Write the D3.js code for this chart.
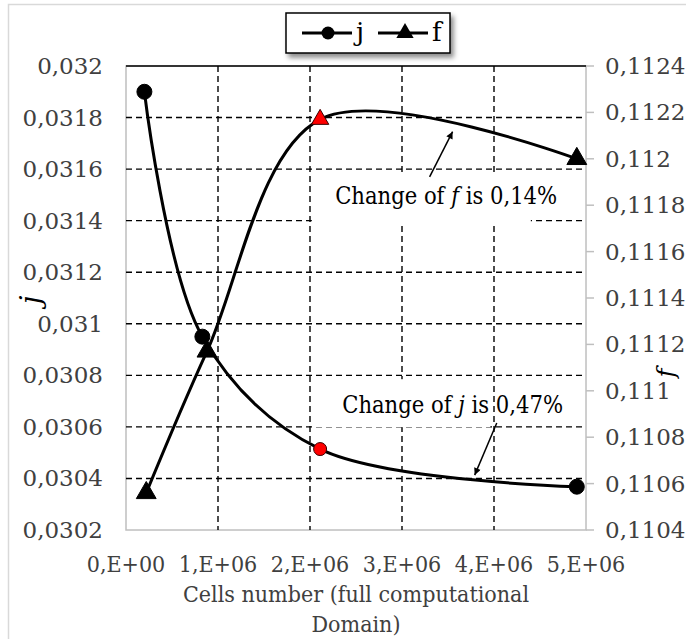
<!DOCTYPE html>
<html><head><meta charset="utf-8">
<script src="https://cdn.jsdelivr.net/npm/d3@7"></script>
<style>
html,body{margin:0;padding:0;background:#fff;}
svg{display:block;}
</style></head>
<body><svg id="c" width="686" height="639"></svg>
<script>
// ---- data ----
const seriesNames = ["j", "f"];
const jCells = [0.20e6, 0.83e6, 2.11e6, 4.90e6];
const jValues = [0.03190, 0.03095, 0.030514, 0.030368];
const fCells = [0.22e6, 0.88e6, 2.11e6, 4.90e6];
const fValues = [0.11056, 0.11117, 0.11217, 0.11200];
const highlightIndex = 2;
const xTicks = [0, 1e6, 2e6, 3e6, 4e6, 5e6];
const xTickLabels = ["0,E+00", "1,E+06", "2,E+06", "3,E+06", "4,E+06", "5,E+06"];
const leftTicks = [0.0302, 0.0304, 0.0306, 0.0308, 0.031, 0.0312, 0.0314, 0.0316, 0.0318, 0.032];
const leftTickLabels = ["0,0302", "0,0304", "0,0306", "0,0308", "0,031", "0,0312", "0,0314", "0,0316", "0,0318", "0,032"];
const rightTicks = [0.1104, 0.1106, 0.1108, 0.111, 0.1112, 0.1114, 0.1116, 0.1118, 0.112, 0.1122, 0.1124];
const rightTickLabels = ["0,1104", "0,1106", "0,1108", "0,111", "0,1112", "0,1114", "0,1116", "0,1118", "0,112", "0,1122", "0,1124"];
const xTitleLines = ["Cells number (full computational", "Domain)"];
// annotations (data coordinates)
const fNote = {textX: 3.48e6, textY: 0.111805, from: [3.30e6, 0.111922], to: [3.55e6, 0.112117], box: [2.02e6, 4.40e6, 0.111943, 0.111719], pct: "0,14%"};
const jNote = {textX: 3.55e6, textY: 0.030653, from: [4.03e6, 0.030615], to: [3.79e6, 0.030413], box: [2.05e6, 3.96e6, 0.030785, 0.030599], pct: "0,47%"};

// ---- layout ----
const FONT = "DejaVu Serif";
const svg = d3.select("#c");
const L = 126, R = 586, T = 66, B = 530;
const x = d3.scaleLinear().domain([0, 5e6]).range([L, R]);
const yL = d3.scaleLinear().domain([0.0302, 0.032]).range([B, T]);
const yR = d3.scaleLinear().domain([0.1104, 0.1124]).range([B, T]);

const defs = svg.append("defs");
defs.append("filter").attr("id", "sh").attr("x", "-20%").attr("y", "-20%").attr("width", "150%").attr("height", "180%")
  .append("feDropShadow").attr("dx", 3).attr("dy", 4).attr("stdDeviation", 2.5).attr("flood-color", "#000").attr("flood-opacity", 0.45);
defs.append("marker").attr("id", "ah").attr("viewBox", "0 0 10 10").attr("refX", 10).attr("refY", 5)
  .attr("markerWidth", 8).attr("markerHeight", 7).attr("markerUnits", "userSpaceOnUse").attr("orient", "auto")
  .append("path").attr("d", "M0,0L10,5L0,10z").attr("fill", "#000");

svg.append("rect").attr("x", 8.5).attr("y", 4.5).attr("width", 700).attr("height", 700)
  .attr("fill", "none").attr("stroke", "#d9d9d9").attr("stroke-width", 1.5);
svg.append("rect").attr("x", L).attr("y", T).attr("width", R - L).attr("height", B - T)
  .attr("fill", "none").attr("stroke", "#bfbfbf").attr("stroke-width", 1.5);

svg.append("g").selectAll("line").data(leftTicks.filter(v => v > 0.0302 && v < 0.032)).join("line")
  .attr("x1", L).attr("x2", R).attr("y1", d => yL(d)).attr("y2", d => yL(d))
  .attr("stroke", "#000").attr("stroke-width", 1.4).attr("stroke-dasharray", "6,4");
svg.append("line").attr("x1", L).attr("x2", R).attr("y1", yL(0.032)).attr("y2", yL(0.032))
  .attr("stroke", "#000").attr("stroke-width", 1.5);
svg.append("g").selectAll("line").data(xTicks.filter(v => v > 0 && v < 5e6)).join("line")
  .attr("x1", d => x(d)).attr("x2", d => x(d)).attr("y1", T).attr("y2", B)
  .attr("stroke", "#000").attr("stroke-width", 1.4).attr("stroke-dasharray", "6,4");
svg.append("g").selectAll("line").data(rightTicks).join("line")
  .attr("x1", R).attr("x2", R + 8).attr("y1", d => yR(d)).attr("y2", d => yR(d))
  .attr("stroke", "#bfbfbf").attr("stroke-width", 1.5);

svg.append("g").selectAll("text").data(leftTicks).join("text")
  .attr("x", 103).attr("y", d => yL(d)).attr("dy", "0.35em").attr("text-anchor", "end")
  .attr("font-family", FONT).attr("font-size", 23).attr("fill", "#404040").text((d, i) => leftTickLabels[i]);
svg.append("g").selectAll("text").data(rightTicks).join("text")
  .attr("x", 605).attr("y", d => yR(d)).attr("dy", "0.35em").attr("text-anchor", "start")
  .attr("font-family", FONT).attr("font-size", 23).attr("fill", "#404040").text((d, i) => rightTickLabels[i]);
svg.append("g").selectAll("text").data(xTicks).join("text")
  .attr("x", d => x(d)).attr("y", 572).attr("text-anchor", "middle")
  .attr("font-family", FONT).attr("font-stretch", "condensed").attr("font-size", 23).attr("fill", "#404040").text((d, i) => xTickLabels[i]);

svg.append("g").selectAll("text").data(xTitleLines).join("text")
  .attr("x", (L + R) / 2).attr("y", (d, i) => 602 + i * 30).attr("text-anchor", "middle")
  .attr("font-family", FONT).attr("font-stretch", "condensed").attr("font-size", 23).attr("fill", "#404040").text(d => d);
svg.append("text").attr("transform", "translate(40,300) rotate(-90)").attr("text-anchor", "middle")
  .attr("font-family", FONT).attr("font-size", 28).attr("font-style", "italic").attr("fill", "#000").text(seriesNames[0]);
svg.append("text").attr("transform", "translate(674,373) rotate(-90)").attr("text-anchor", "middle")
  .attr("font-family", FONT).attr("font-size", 24).attr("font-style", "italic").attr("fill", "#000").text(seriesNames[1]);

function note(n, yS, sym) {
  svg.append("rect").attr("x", x(n.box[0])).attr("y", yS(n.box[2]))
    .attr("width", x(n.box[1]) - x(n.box[0])).attr("height", yS(n.box[3]) - yS(n.box[2])).attr("fill", "#fff");
  const t = svg.append("text").attr("x", x(n.textX)).attr("y", yS(n.textY)).attr("text-anchor", "middle")
    .attr("font-family", FONT).attr("font-stretch", "condensed").attr("font-size", 23.5).attr("fill", "#000");
  t.append("tspan").text("Change of ");
  t.append("tspan").attr("font-style", "italic").text(sym);
  t.append("tspan").text(" is " + n.pct);
  svg.append("line").attr("x1", x(n.from[0])).attr("y1", yS(n.from[1])).attr("x2", x(n.to[0])).attr("y2", yS(n.to[1]))
    .attr("stroke", "#000").attr("stroke-width", 1.5).attr("marker-end", "url(#ah)");
}
note(fNote, yR, "f");
note(jNote, yL, "j");

const jData = jCells.map((c, i) => [c, jValues[i]]);
const fData = fCells.map((c, i) => [c, fValues[i]]);
const lineJ = d3.line().x(d => x(d[0])).y(d => yL(d[1])).curve(d3.curveCatmullRom.alpha(0.5));
const lineF = d3.line().x(d => x(d[0])).y(d => yR(d[1])).curve(d3.curveCatmullRom.alpha(0.5));
svg.append("path").attr("d", lineJ(jData)).attr("fill", "none").attr("stroke", "#000").attr("stroke-width", 3);
svg.append("path").attr("d", lineF(fData)).attr("fill", "none").attr("stroke", "#000").attr("stroke-width", 3);

svg.append("g").selectAll("circle").data(jData).join("circle")
  .attr("cx", d => x(d[0])).attr("cy", d => yL(d[1]))
  .attr("r", (d, i) => i === highlightIndex ? 6.5 : 7.5)
  .attr("fill", (d, i) => i === highlightIndex ? "#ff0000" : "#000")
  .attr("stroke", (d, i) => i === highlightIndex ? "#3a0000" : "#000").attr("stroke-width", 1);
const tri = d3.symbol().type(d3.symbolTriangle);
svg.append("g").selectAll("path").data(fData).join("path")
  .attr("transform", d => `translate(${x(d[0])},${yR(d[1])})`)
  .attr("d", (d, i) => tri.size(i === highlightIndex ? 130 : 170)())
  .attr("fill", (d, i) => i === highlightIndex ? "#ff0000" : "#000")
  .attr("stroke", (d, i) => i === highlightIndex ? "#3a0000" : "#000").attr("stroke-width", 1);

const lg = svg.append("g");
lg.append("rect").attr("x", 286).attr("y", 13).attr("width", 164).attr("height", 40)
  .attr("fill", "#fff").attr("stroke", "#000").attr("stroke-width", 1.5).attr("filter", "url(#sh)");
const legendItems = [{name: seriesNames[0], x0: 302, sym: "circle"}, {name: seriesNames[1], x0: 378, sym: "tri"}];
legendItems.forEach(it => {
  lg.append("line").attr("x1", it.x0).attr("x2", it.x0 + 50).attr("y1", 33).attr("y2", 33)
    .attr("stroke", "#000").attr("stroke-width", 3);
  if (it.sym === "circle") lg.append("circle").attr("cx", it.x0 + 26).attr("cy", 33).attr("r", 6.5).attr("fill", "#000");
  else lg.append("path").attr("transform", `translate(${it.x0 + 27},33)`).attr("d", tri.size(130)()).attr("fill", "#000");
  lg.append("text").attr("x", it.x0 + 54).attr("y", 41).attr("font-family", FONT).attr("font-size", 26).attr("fill", "#000").text(it.name);
});
</script></body></html>
